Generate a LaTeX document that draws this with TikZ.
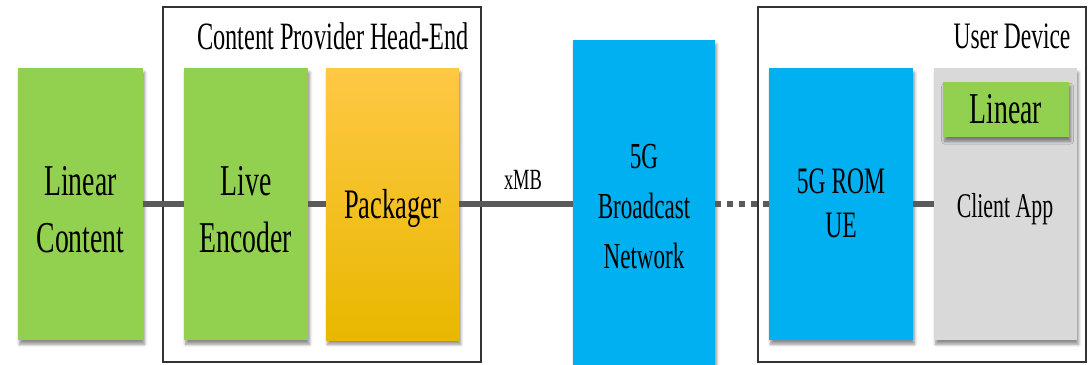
\documentclass[tikz,border=0pt]{standalone}
\usepackage{fontspec}
\setmainfont{Liberation Serif}
\newfontfamily\cond[FakeStretch=0.63]{Liberation Serif}
\usetikzlibrary{fit,shadows.blur}
\definecolor{boxgreen}{HTML}{92D050}
\definecolor{boxblue}{HTML}{00B0F0}
\definecolor{boxgray}{HTML}{D9D9D9}
\definecolor{linkgray}{HTML}{5A5A5A}
\definecolor{pktop}{HTML}{FFC845}
\definecolor{pkmid}{HTML}{FFC000}
\definecolor{pkbot}{HTML}{E8B800}
\tikzset{
  blk/.style={inner sep=0pt, draw=none,
    blur shadow={shadow xshift=1.2pt, shadow yshift=-3.2pt, shadow blur radius=2.2pt,
      shadow blur steps=6, shadow opacity=45}},
  greenblk/.style={blk, fill=boxgreen},
  blueblk/.style={blk, fill=boxblue},
  grayblk/.style={blk, fill=boxgray},
  orangeblk/.style={blk, top color=pktop, middle color=pkmid, bottom color=pkbot},
  frame/.style={inner sep=0pt, draw=black!80, line width=1.1pt},
  link/.style={draw=linkgray, line width=5.2pt},
  radiolink/.style={link, dash pattern=on 4.6pt off 4.4pt},
  lbl/.style={align=center, text=black, inner sep=0pt},
}
\begin{document}
\begin{tikzpicture}[x=0.75pt, y=-0.75pt]
\useasboundingbox (0,0) rectangle (1088,364);
\clip (0,0) rectangle (1088,364);

% group frames
\node[frame, fit={(163,7)(481,362)}] (head) {};
\node[frame, fit={(758,7)(1086,362)}] (dev) {};
\node[lbl, font=\cond\fontsize{29}{32}\selectfont] (headlbl) at (333,36) {Content Provider Head-End};
\node[lbl, font=\cond\fontsize{28}{32}\selectfont] (devlbl) at (1012,36) {User Device};

% processing blocks
\node[greenblk, fit={(18,68)(143,340)}] (lc) {};
\node[greenblk, fit={(184,68)(308,340)}] (le) {};
\node[orangeblk, fit={(326,68)(459,340)}] (pk) {};
\node[blueblk, fit={(573,40)(715,370)}] (bn) {};
\node[blueblk, fit={(769,68)(913,340)}] (rom) {};
\node[grayblk, fit={(934,68)(1077,340)}] (ca) {};
\node[greenblk, fit={(943,82)(1069,137)}] (lin) {};

% links between blocks
\draw[link] (lc.east) -- (le.west);
\draw[link] (le.east) -- (pk.west);
\draw[link] (pk.east) -- (pk.east -| bn.west);
\draw[radiolink] (rom.west -| bn.east) -- (rom.west);
\draw[link] (rom.east) -- (ca.west);

% block texts
\node[lbl, font=\cond\fontsize{33}{42.5}\selectfont] (lctxt) at ([yshift=-4pt]lc.center) {Linear\\Content};
\node[lbl, font=\cond\fontsize{33}{42.5}\selectfont] (letxt) at ([yshift=-4pt]le.center) {Live\\Encoder};
\node[lbl, font=\cond\fontsize{31.5}{36}\selectfont] (pktxt) at ([yshift=-3pt]pk.center) {Packager};
\node[lbl, font=\cond\fontsize{27.5}{37.5}\selectfont] (bntxt) at (644,207) {5G\\Broadcast\\Network};
\node[lbl, font=\cond\fontsize{28}{33}\selectfont] (romtxt) at (841,203) {5G ROM\\UE};
\node[lbl, font=\cond\fontsize{26}{30}\selectfont] (catxt) at (1005,209) {Client App};
\node[lbl, font=\cond\fontsize{33}{36}\selectfont] (lintxt) at (lin.center) {Linear};
\node[lbl, font=\cond\fontsize{22}{26}\selectfont] (xmb) at (523,180) {xMB};
\end{tikzpicture}
\end{document}
